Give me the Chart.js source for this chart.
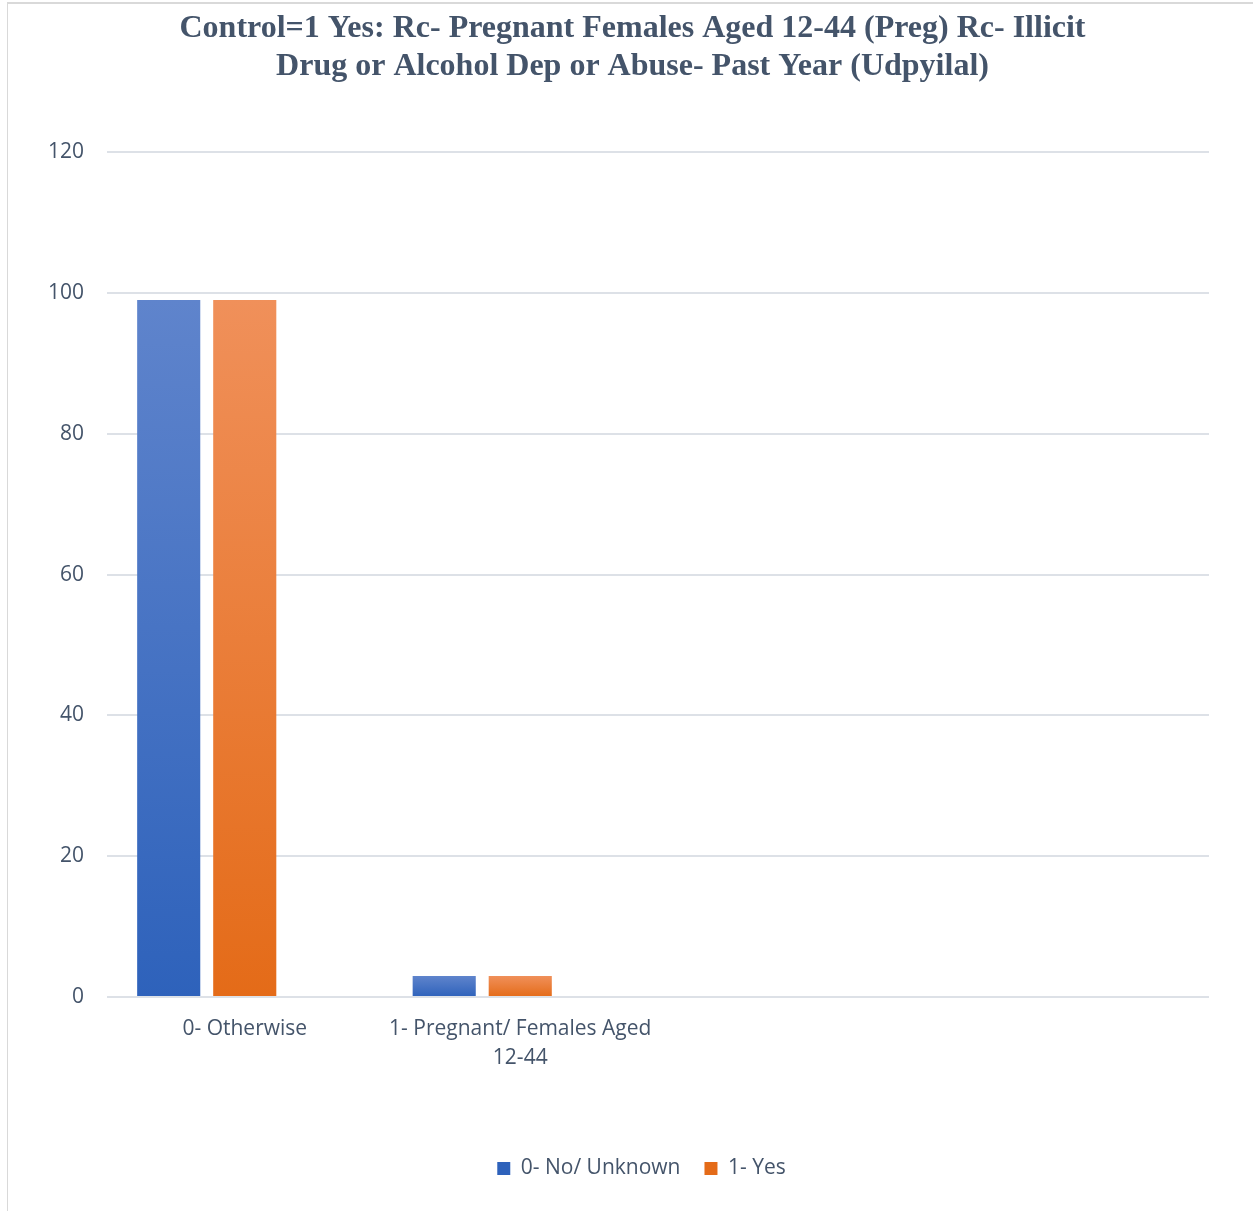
<!DOCTYPE html>
<html lang="en">
<head>
<meta charset="UTF-8">
<title>Control=1 Yes: Preg x Udpyilal</title>
<script src="https://cdn.jsdelivr.net/npm/chart.js"></script>
<style>
  html, body { margin: 0; padding: 0; background: #fff; overflow: hidden; }
  #wrap { position: absolute; left: 0; top: 0; width: 1253px; height: 1211px; }
  #frame { position: absolute; left: 7px; top: 2px; right: 0; bottom: 0;
           border-top: 2px solid #d9d9d9; border-left: 1px solid #d9d9d9; pointer-events: none; }
</style>
</head>
<body>
<div id="wrap"><canvas id="grafico"></canvas></div>
<div id="frame"></div>
<script>
    // categorias e valores
    var categorias = ['0- Otherwise', ['1- Pregnant/ Females Aged', '12-44'], '', ''];
    var nomesSeries = ['0- No/ Unknown', '1- Yes', ''];
    var valoresNao = [99, 3, null, null];
    var valoresSim = [99, 3, null, null];
    var valoresVazio = [null, null, null, null];
    var ticksY = [0, 20, 40, 60, 80, 100, 120];

    var corTexto = '#44546a';
    var corGrade = '#dde1e7';
    var fonteTexto = '"Open Sans", sans-serif';

    // degradê vertical em cada barra (topo claro, base escura)
    function degrade(topo, base) {
        return function (ctx) {
            var chart = ctx.chart;
            if (!chart.chartArea || ctx.raw == null || ctx.type !== 'data') return base;
            var y = chart.scales.y;
            var y0 = y.getPixelForValue(ctx.raw);
            var y1 = y.getPixelForValue(0);
            var g = chart.ctx.createLinearGradient(0, y0, 0, y1);
            g.addColorStop(0, topo);
            g.addColorStop(1, base);
            return g;
        };
    }

    // empurra título e legenda um pouco para a direita
    var deslocaCaixas = {
        id: 'deslocaCaixas',
        afterLayout: function (chart) {
            if (chart.titleBlock) { chart.titleBlock.left += 5; chart.titleBlock.right += 5; }
            if (chart.legend) { chart.legend.left += 14; chart.legend.right += 14; }
        }
    };

    var data = {
        labels: categorias,
        datasets: [{
            label: nomesSeries[0],
            data: valoresNao,
            backgroundColor: degrade('#5f84cc', '#2e62bb'),
            borderWidth: 0
        }, {
            label: nomesSeries[1],
            data: valoresSim,
            backgroundColor: degrade('#f0905a', '#e46b18'),
            borderWidth: 0
        }, {
            label: nomesSeries[2],
            data: valoresVazio,
            backgroundColor: '#a5a5a5',
            borderWidth: 0
        }]
    };

    var config = {
        type: 'bar',
        data: data,
        plugins: [deslocaCaixas],
        options: {
            responsive: true,
            maintainAspectRatio: false,
            animation: false,
            datasets: {
                bar: { categoryPercentage: 0.828, barPercentage: 0.83 }
            },
            layout: { padding: { left: 46, right: 44, top: 0, bottom: 22 } },
            plugins: {
                title: {
                    display: true,
                    text: ['Control=1 Yes: Rc- Pregnant Females Aged 12-44 (Preg) Rc- Illicit',
                           'Drug or Alcohol Dep or Abuse- Past Year (Udpyilal)'],
                    color: '#44546a',
                    font: { family: '"Liberation Serif", "Times New Roman", serif', size: 32, weight: 'bold', lineHeight: 1.19 },
                    padding: { top: 10, bottom: 66 }
                },
                legend: {
                    position: 'bottom',
                    labels: {
                        color: corTexto,
                        font: { family: fonteTexto, size: 21 },
                        boxWidth: 13,
                        boxHeight: 13,
                        padding: 24,
                        filter: function (item) { return item.datasetIndex < 2; }
                    }
                },
                tooltip: { enabled: false }
            },
            scales: {
                x: {
                    grid: { display: false, drawTicks: false },
                    border: { display: false },
                    ticks: {
                        color: corTexto,
                        font: { family: fonteTexto, size: 21, lineHeight: 1.4 },
                        maxRotation: 0,
                        autoSkip: false,
                        padding: 17
                    },
                    afterFit: function (s) { s.height = 137; }
                },
                y: {
                    min: 0,
                    max: 120,
                    afterBuildTicks: function (s) {
                        s.ticks = ticksY.map(function (v) { return { value: v }; });
                    },
                    grid: { color: corGrade, lineWidth: 2, drawTicks: false },
                    border: { display: false },
                    ticks: {
                        color: corTexto,
                        font: { family: fonteTexto, size: 21 },
                        padding: 23
                    },
                    afterFit: function (s) { s.width = 61; }
                }
            }
        }
    };

    var grafico = new Chart(document.getElementById('grafico'), config);
</script>
</body>
</html>
